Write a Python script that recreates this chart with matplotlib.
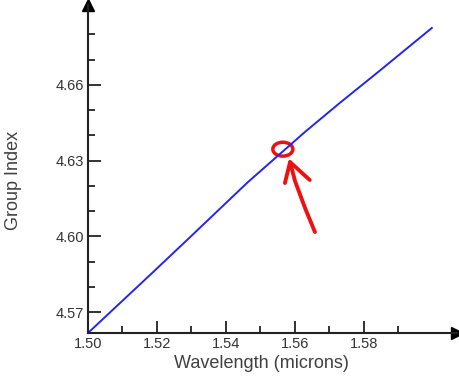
import numpy as np
import matplotlib.pyplot as plt
from matplotlib.patches import Ellipse

# Group index curve
wavelength = [1.5000, 1.5180, 1.5287, 1.5464, 1.5629, 1.5730, 1.5838, 1.5997]
group_index = [4.5617, 4.5847, 4.5985, 4.6215, 4.6413, 4.6528, 4.6647, 4.6825]

x_ticks = [1.50, 1.52, 1.54, 1.56, 1.58]
y_ticks = [4.57, 4.60, 4.63, 4.66]

# hand-drawn red marker (circle + arrow)
mark_center = (1.5565, 4.6345)
arrow_shaft_x = [1.5658, 1.5630, 1.5600, 1.5586]
arrow_shaft_y = [4.6017, 4.6110, 4.6220, 4.6294]
arrow_head_x = [1.5571, 1.5586, 1.5643]
arrow_head_y = [4.6211, 4.6294, 4.6223]

plt.rcParams['font.family'] = ['Liberation Sans', 'DejaVu Sans']

fig = plt.figure(figsize=(4.59, 3.76), dpi=100)
ax = fig.add_axes([88 / 459, 43 / 376, (457 - 88) / 459, (333 - 5) / 376])

ax.plot(wavelength, group_index, color='#2525ee', linewidth=1.4)

ax.set_xlim(1.50, 1.607)
ax.set_ylim(4.5617, 4.6916)

for s in ['top', 'right']:
    ax.spines[s].set_visible(False)
for s in ['left', 'bottom']:
    ax.spines[s].set_linewidth(1.5)
    ax.spines[s].set_color('#222222')

# arrow heads at axis ends
ax.plot(1, 0, '>', color='black', markersize=9, transform=ax.transAxes, clip_on=False)
ax.plot(0, 1, '^', color='black', markersize=9, transform=ax.transAxes, clip_on=False)

ax.set_xticks(x_ticks)
ax.set_xticklabels(['%.2f' % v for v in x_ticks])
ax.set_xticks(np.arange(1.51, 1.60, 0.02), minor=True)
ax.set_yticks(y_ticks)
ax.set_yticklabels(['%.2f' % v for v in y_ticks])
ax.set_yticks([4.58, 4.59, 4.61, 4.62, 4.64, 4.65, 4.67, 4.68], minor=True)

ax.tick_params(axis='both', which='major', direction='in', length=9, width=1.3,
               color='#222222', labelsize=10.5, labelcolor='#333333', pad=3)
ax.tick_params(axis='both', which='minor', direction='in', length=5, width=1.3,
               color='#222222')

ax.set_xlabel('Wavelength (microns)', fontsize=13, color='#404040')
ax.set_ylabel('Group Index', fontsize=13, color='#404040')
ax.xaxis.set_label_coords(0.469, -0.066)
ax.yaxis.set_label_coords(-0.178, 0.465)

# red annotation
ax.add_patch(Ellipse(mark_center, 0.0058, 0.0055, fill=False, edgecolor='#ee1111', linewidth=2.5))
ax.plot(arrow_shaft_x, arrow_shaft_y, color='#ee1111', linewidth=2.8, solid_capstyle='round')
ax.plot(arrow_head_x, arrow_head_y, color='#ee1111', linewidth=2.8, solid_capstyle='round',
        solid_joinstyle='round')

fig.savefig('out.png', dpi=100)
